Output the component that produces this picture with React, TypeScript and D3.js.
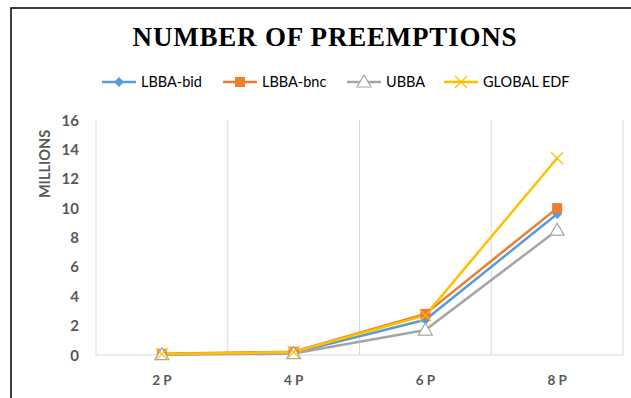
import * as React from 'react'
import * as d3 from 'd3'

const categories = ['2 P', '4 P', '6 P', '8 P']
const seriesNames = ['LBBA-bid', 'LBBA-bnc', 'UBBA', 'GLOBAL EDF']
const lbbaBid = [0.05, 0.15, 2.4, 9.6]
const lbbaBnc = [0.08, 0.22, 2.8, 10.0]
const ubba = [0.02, 0.1, 1.7, 8.5]
const globalEdf = [0.06, 0.2, 2.7, 13.4]
const yTicks = [0, 2, 4, 6, 8, 10, 12, 14, 16]

const colors = ['#5B9BD5', '#ED7D31', '#A5A5A5', '#FFC000']
const markers = ['diamond', 'square', 'triangle', 'x']
const legendX = [102, 223, 347, 444]

const W = 631
const H = 398
const font = 'Lato, "Open Sans", sans-serif'

const Marker = ({ type, x, y, color }: { type: string; x: number; y: number; color: string }) => {
  if (type === 'diamond') {
    const s = 5
    return <path d={`M${x},${y - s}L${x + s},${y}L${x},${y + s}L${x - s},${y}Z`} fill={color} />
  }
  if (type === 'square') {
    return <rect x={x - 5} y={y - 5} width={10} height={10} fill={color} />
  }
  if (type === 'triangle') {
    return (
      <path
        d={`M${x},${y - 7}L${x + 7},${y + 5}L${x - 7},${y + 5}Z`}
        fill="#fff"
        stroke={color}
        strokeWidth={1.2}
      />
    )
  }
  return (
    <g stroke={color} strokeWidth={1.3}>
      <line x1={x - 6} y1={y - 6} x2={x + 6} y2={y + 6} />
      <line x1={x - 6} y1={y + 6} x2={x + 6} y2={y - 6} />
    </g>
  )
}

export default function App() {
  const series = [lbbaBid, lbbaBnc, ubba, globalEdf]
  const x = d3.scaleBand().domain(categories).range([96, 623])
  const y = d3.scaleLinear().domain([0, 16]).range([355, 120])
  const line = d3
    .line<number>()
    .x((_, i) => (x(categories[i]) as number) + x.bandwidth() / 2)
    .y((d) => y(d))

  const bounds = [...categories.map((c) => x(c) as number), 623]

  return (
    <svg width={W} height={H} style={{ position: 'absolute', left: 0, top: 0, background: '#fff' }}>
      <rect x={11} y={8} width={W} height={H} fill="#fff" stroke="#000" strokeWidth={1.5} />
      <text
        x={325}
        y={46}
        textAnchor="middle"
        fontFamily='"Liberation Serif", "Times New Roman", serif'
        fontWeight="bold"
        fontSize={27}
        letterSpacing={0.8}
        fill="#000"
      >
        NUMBER OF PREEMPTIONS
      </text>

      {seriesNames.map((name, i) => (
        <g key={name}>
          <line x1={legendX[i]} x2={legendX[i] + 34} y1={82} y2={82} stroke={colors[i]} strokeWidth={2.5} />
          <Marker type={markers[i]} x={legendX[i] + 17} y={82} color={colors[i]} />
          <text x={legendX[i] + 39} y={87} fontFamily={font} fontSize={14.5} fill="#000">
            {name}
          </text>
        </g>
      ))}

      {bounds.map((b, i) => (
        <line key={i} x1={b} x2={b} y1={y(16)} y2={y(0)} stroke="#D9D9D9" strokeWidth={1} />
      ))}
      <line x1={96} x2={623} y1={y(0)} y2={y(0)} stroke="#D9D9D9" strokeWidth={1} />

      {yTicks.map((t) => (
        <text
          key={t}
          x={79}
          y={y(t) + 5.5}
          textAnchor="end"
          fontFamily={font}
          fontWeight="bold"
          fontSize={15}
          fill="#595959"
        >
          {t}
        </text>
      ))}
      <text
        transform={`translate(50,164) rotate(-90)`}
        textAnchor="middle"
        fontFamily={font}
        fontWeight="bold"
        fontSize={14.5}
        fill="#595959"
      >
        MILLIONS
      </text>

      {categories.map((c) => (
        <text
          key={c}
          x={(x(c) as number) + x.bandwidth() / 2}
          y={385}
          textAnchor="middle"
          fontFamily={font}
          fontWeight="bold"
          fontSize={13.5}
          fill="#595959"
        >
          {c}
        </text>
      ))}

      {series.map((s, i) => (
        <path key={i} d={line(s) as string} fill="none" stroke={colors[i]} strokeWidth={2.5} />
      ))}
      {series.map((s, i) =>
        s.map((v, j) => (
          <Marker
            key={`${i}-${j}`}
            type={markers[i]}
            x={(x(categories[j]) as number) + x.bandwidth() / 2}
            y={y(v)}
            color={colors[i]}
          />
        ))
      )}
    </svg>
  )
}
